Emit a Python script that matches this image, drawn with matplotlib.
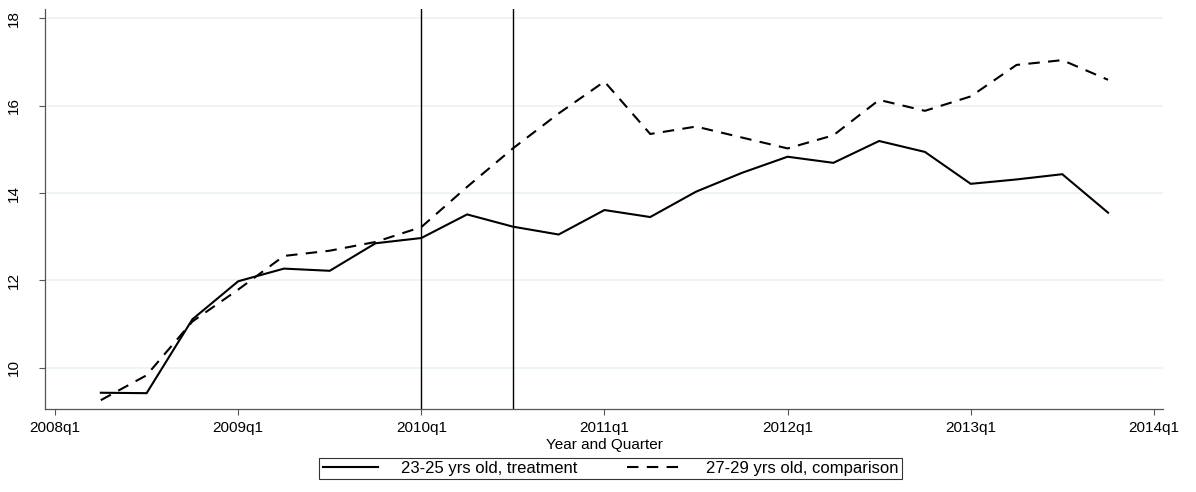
import matplotlib.pyplot as plt
from matplotlib.lines import Line2D

plt.rcParams['font.family'] = ['Liberation Sans', 'DejaVu Sans']

# quarters since 2008q1 (1 = 2008q2 ... 23 = 2013q4)
quarters = list(range(1, 24))
treatment = [9.43, 9.42, 11.11, 11.98, 12.27, 12.22, 12.85, 12.97, 13.51, 13.23, 13.05, 13.61,
             13.45, 14.03, 14.46, 14.83, 14.69, 15.19, 14.94, 14.21, 14.31, 14.43, 13.55]
comparison = [9.26, 9.83, 11.06, 11.79, 12.56, 12.68, 12.88, 13.22, 14.14, 15.02, 15.82, 16.55,
              15.35, 15.52, 15.27, 15.02, 15.32, 16.13, 15.88, 16.21, 16.93, 17.04, 16.59]
tick_quarters = [0, 4, 8, 12, 16, 20, 24]
tick_labels = ['2008q1', '2009q1', '2010q1', '2011q1', '2012q1', '2013q1', '2014q1']
policy_quarters = [8, 10]  # 2010q1 and 2010q3

fig = plt.figure(figsize=(11.96, 4.92), dpi=100)
ax = fig.add_axes([0.0376, 0.168, 0.9348, 0.8137])

for yv in [10, 12, 14, 16, 18]:
    ax.axhline(yv, color='#eaf2f3', lw=1.2, zorder=0)

for q in policy_quarters:
    ax.axvline(q, color='black', lw=1.0, zorder=1)

ax.plot(quarters, treatment, color='black', lw=1.5, solid_joinstyle='miter', zorder=3)
ax.plot(quarters, comparison, color='black', lw=1.5, dashes=(5.5, 4), zorder=3)

ax.set_xlim(-0.22, 24.2)
ax.set_ylim(9.05, 18.21)
ax.set_xticks(tick_quarters)
ax.set_xticklabels(tick_labels)
ax.set_yticks([10, 12, 14, 16, 18])
ax.set_yticklabels(['10', '12', '14', '16', '18'], rotation=90, va='center')
ax.tick_params(axis='both', direction='out', length=4, width=0.8, color='#555555',
               labelsize=11)
ax.tick_params(axis='x', pad=4.5)
ax.tick_params(axis='y', pad=13)
ax.set_xlabel('Year and Quarter', fontsize=11, labelpad=2)

for side in ['top', 'right']:
    ax.spines[side].set_visible(False)
for side in ['left', 'bottom']:
    ax.spines[side].set_color('#555555')
    ax.spines[side].set_linewidth(0.9)

handles = [Line2D([], [], color='black', lw=1.5),
           Line2D([], [], color='black', lw=1.5, dashes=(5.5, 4))]
leg = fig.legend(handles, ['23-25 yrs old, treatment', '27-29 yrs old, comparison'],
                 loc='center', bbox_to_anchor=(0.5105, 0.0475), ncol=2, fontsize=12,
                 frameon=True, fancybox=False, edgecolor='black', handlelength=3.3,
                 handletextpad=1.4, columnspacing=3.0, borderpad=0.2, borderaxespad=0)
leg.get_frame().set_linewidth(0.8)

fig.savefig('out.png', dpi=100)
